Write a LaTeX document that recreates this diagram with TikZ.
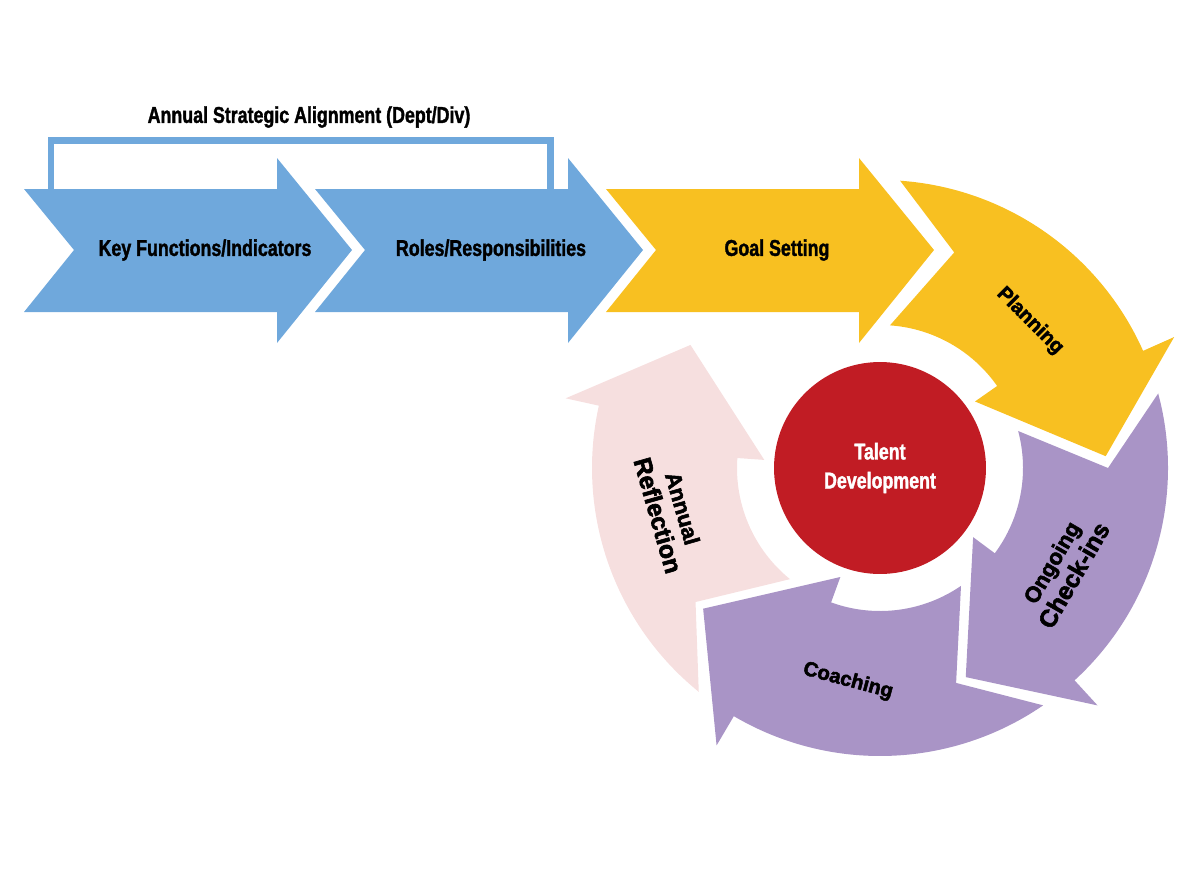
\documentclass[tikz,border=0pt]{standalone}
\usepackage{fontspec}
\setmainfont{Liberation Sans}
\newfontfamily\condfont[FakeStretch=0.78, BoldFeatures={FakeBold=1.5}]{Liberation Sans}
\newfontfamily\heavyfont[BoldFeatures={FakeBold=2.5}]{Liberation Sans}
\usepackage{tikz}
\usetikzlibrary{calc}
\definecolor{tdBlue}{HTML}{6FA8DC}
\definecolor{tdGold}{HTML}{F8C021}
\definecolor{tdLilac}{HTML}{A994C6}
\definecolor{tdPink}{HTML}{F6DFDF}
\definecolor{tdRed}{HTML}{C11C24}
\newcommand\smallln[1]{{\fontsize{12.5}{14}\selectfont #1}}
\newcommand\bigln[1]{{\fontsize{14}{16}\selectfont #1}}
\tikzset{
  chevlbl/.style={font=\condfont\bfseries\fontsize{13}{16.5}\selectfont, text=black, inner sep=0pt},
  ringlbl/.style={font=\heavyfont\bfseries\fontsize{11.5}{13}\selectfont, align=center, text=black, inner sep=0pt},
  hub/.style={circle, fill=tdRed, minimum size=4.24cm, inner sep=0pt, align=center, text=white,
    font=\condfont\bfseries\fontsize{13}{16.5}\selectfont},
  bracket/.style={draw=tdBlue, line width=0.14cm},
}

\begin{document}
\begin{tikzpicture}[x=0.02cm, y=0.02cm]
  \useasboundingbox (0,0) rectangle (1200,-873);
  % bracket over the first two steps
  \draw[bracket] (51,-189) |- (550,-140.5) -- (550,-189);
  \node[chevlbl] (align) at (309,-117) {Annual Strategic Alignment (Dept/Div)};
  % chevrons
  \foreach \x/\c in {24/tdBlue, 315/tdBlue, 606/tdGold}
    \fill[\c] (\x,-189) -- ++(253,0) -- ++(0,31) -- (\x+328,-250) -- (\x+253,-343)
      -- ++(0,31) -- (\x,-312) -- (\x+50,-250) -- cycle;
  \node[chevlbl] (keyfn) at (205,-250) {Key Functions/Indicators};
  \node[chevlbl] (roles) at (491,-250) {Roles/Responsibilities};
  \node[chevlbl] (goal) at (777,-250) {Goal Setting};
  % cycle
  \coordinate (C) at (880,-468);
  \foreach \c/\t/\ho/\hi/\tp in {tdGold/86/24/35/3, tdLilac/15/-47.5/-36.6/-67.7,
      tdLilac/-55.5/-120.5/-110/-141.5, tdPink/231/167.5/176/147}
    \fill[\c] ($(C)+(\t:288)$) arc[start angle=\t, end angle=\ho, radius=288]
      -- ($(C)+(\ho:322)$) -- ($(C)+(\tp:226)$) -- ($(C)+(\hi:116)$)
      -- ($(C)+(\hi:143)$) arc[start angle=\hi, end angle=\t, radius=143]
      -- ($(C)+({\t-15}:228)$) -- cycle;
  \node[hub] (hubnode) at (C) {Talent\\Development};
  \node[ringlbl, rotate=-45] (plan) at (1030,-321) {Planning};
  \node[ringlbl, rotate=60] (check) at (1063,-569) {\smallln{Ongoing}\\[2pt]\bigln{Check-ins}};
  \node[ringlbl, rotate=-15] (coach) at (848,-681) {Coaching};
  \node[ringlbl, rotate=-74] (reflect) at (670,-512) {\smallln{Annual}\\[2pt]\bigln{Reflection}};
\end{tikzpicture}
\end{document}
